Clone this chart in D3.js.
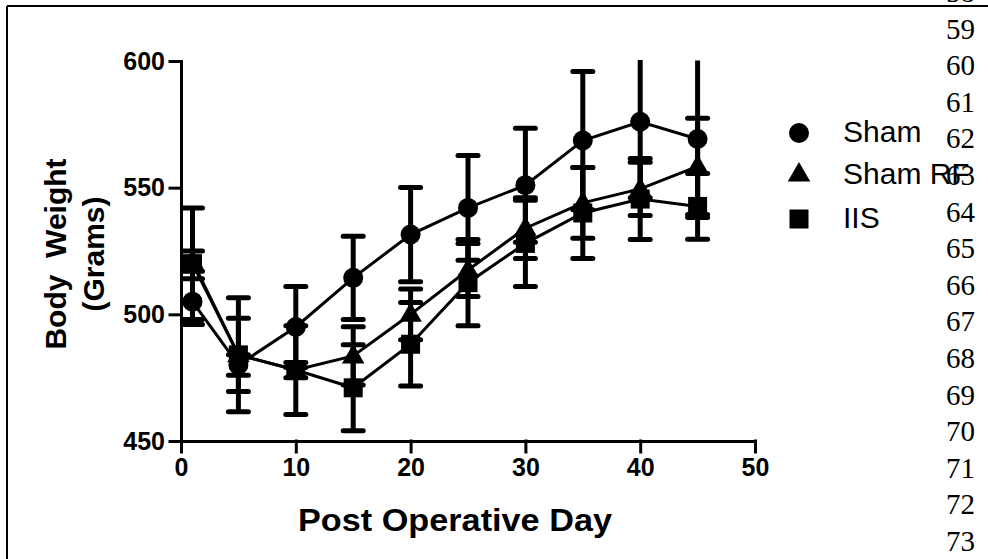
<!DOCTYPE html>
<html>
<head>
<meta charset="utf-8">
<script src="https://cdn.jsdelivr.net/npm/d3@7"></script>
<style>
  html, body { margin: 0; padding: 0; background: #fff; }
  svg { display: block; }
</style>
</head>
<body>
<svg id="chart" width="988" height="559"></svg>
<script>
// ---- data ----
const days = [1, 5, 10, 15, 20, 25, 30, 35, 40, 45];
const shamMean   = [505, 480, 495, 514.4, 531.5, 542, 551, 568.6, 576, 569.2];
const shamSem    = [9, 4, 16, 16.4, 18.6, 20.7, 22.5, 27.3, 30, 31];
const shamRFMean = [521, 484, 478, 483.6, 500, 517.5, 534, 544, 549.5, 558.4];
const shamRFSem  = [4, 22.5, 3, 11.5, 10, 10.5, 12, 14, 10.5, 19];
const iisMean    = [520, 484, 478, 471, 488.2, 512.5, 528, 540, 545.5, 542.6];
const iisSem     = [22, 14.5, 17.5, 17, 16.5, 17, 17, 18, 16, 13];
const seriesNames = ["Sham", "Sham RF", "IIS"];
const seriesShapes = ["circle", "triangle", "square"];
const xTicks = [0, 10, 20, 30, 40, 50];
const yTicks = [450, 500, 550, 600];
const lineNumbers = [58, 59, 60, 61, 62, 63, 64, 65, 66, 67, 68, 69, 70, 71, 72, 73];

const series = [
  { name: seriesNames[0], shape: seriesShapes[0], mean: shamMean, sem: shamSem },
  { name: seriesNames[1], shape: seriesShapes[1], mean: shamRFMean, sem: shamRFSem },
  { name: seriesNames[2], shape: seriesShapes[2], mean: iisMean, sem: iisSem }
];

const svg = d3.select("#chart");
const FONT = "'Liberation Sans', Arial, Helvetica, sans-serif";

// page frame (document border)
svg.append("line").attr("x1", 7).attr("y1", 6).attr("x2", 988).attr("y2", 6)
  .attr("stroke", "#000").attr("stroke-width", 2);
svg.append("line").attr("x1", 7).attr("y1", 6).attr("x2", 7).attr("y2", 559)
  .attr("stroke", "#000").attr("stroke-width", 2);

// line numbers on the right margin
svg.append("g").selectAll("text").data(lineNumbers).join("text")
  .attr("x", 975).attr("y", d => 38.5 + (d - 59) * 36.6)
  .attr("text-anchor", "end")
  .attr("font-family", "'Liberation Serif', 'Times New Roman', serif")
  .attr("font-size", 29)
  .attr("fill", "#000")
  .text(d => d);

// ---- scales ----
const x = d3.scaleLinear().domain([0, 50]).range([181, 755]);
const y = d3.scaleLinear().domain([450, 600]).range([441, 61]);

// ---- axes ----
const yAxis = d3.axisLeft(y).tickValues(yTicks).tickSize(11).tickSizeOuter(0).tickPadding(5);
const xAxis = d3.axisBottom(x).tickValues(xTicks).tickSize(11).tickSizeOuter(0).tickPadding(6);

const gy = svg.append("g").attr("transform", "translate(181,0)").call(yAxis);
const gx = svg.append("g").attr("transform", "translate(0,441)").call(xAxis);
[gx, gy].forEach(g => {
  g.select(".domain").attr("stroke", "#000").attr("stroke-width", 3).attr("stroke-linecap", "square");
  g.selectAll(".tick line").attr("stroke", "#000").attr("stroke-width", 3).attr("stroke-linecap", "square");
  g.selectAll(".tick text").attr("fill", "#000")
    .attr("font-family", FONT).attr("font-weight", "bold").attr("font-size", 25);
});

// axis titles
svg.append("text")
  .attr("x", 455).attr("y", 531)
  .attr("text-anchor", "middle")
  .attr("font-family", FONT).attr("font-weight", "bold").attr("font-size", 31)
  .attr("textLength", 314).attr("lengthAdjust", "spacingAndGlyphs")
  .text("Post Operative Day");

const yt = svg.append("text")
  .attr("transform", "translate(66,254) rotate(-90)")
  .attr("text-anchor", "middle")
  .attr("font-family", FONT).attr("font-weight", "bold").attr("font-size", 30)
  .attr("xml:space", "preserve");
yt.append("tspan").attr("x", 0).attr("y", 0).text("Body  Weight");
yt.append("tspan").attr("x", 0).attr("y", 38).text("(Grams)");

// ---- marks ----
const clipTop = y(600);
const shapeSym = {
  circle: d3.symbol().type(d3.symbolCircle).size(Math.PI * 10 * 10),
  triangle: d3.symbol().type(d3.symbolTriangle).size(220),
  square: d3.symbol().type(d3.symbolSquare).size(19 * 19)
};

const line = d3.line().x(d => x(d.day)).y(d => y(d.v));

series.forEach(s => {
  const pts = days.map((d, i) => ({ day: d, v: s.mean[i], e: s.sem[i] }));
  const g = svg.append("g");
  // error bars
  pts.forEach(p => {
    const hi = p.v + p.e, lo = p.v - p.e;
    const yHi = Math.max(y(hi), clipTop - 1);
    g.append("line").attr("x1", x(p.day)).attr("x2", x(p.day))
      .attr("y1", yHi).attr("y2", y(lo))
      .attr("stroke", "#000").attr("stroke-width", 5);
    [hi, lo].forEach(v => {
      if (v > 600) return;
      g.append("line").attr("x1", x(p.day) - 10).attr("x2", x(p.day) + 10)
        .attr("y1", y(v)).attr("y2", y(v))
        .attr("stroke", "#000").attr("stroke-width", 5).attr("stroke-linecap", "round");
    });
  });
  // connecting line
  g.append("path").datum(pts).attr("d", line)
    .attr("fill", "none").attr("stroke", "#000").attr("stroke-width", 3);
  // markers
  g.selectAll("path.m").data(pts).join("path").attr("class", "m")
    .attr("transform", p => `translate(${x(p.day)},${y(p.v) + (s.shape === "triangle" ? 1 : 0)})`)
    .attr("d", shapeSym[s.shape]())
    .attr("fill", "#000");
});

// ---- legend ----
const legendY = [133, 175, 219];
const lg = svg.append("g");
series.forEach((s, i) => {
  lg.append("path")
    .attr("transform", `translate(799,${legendY[i]})`)
    .attr("d", shapeSym[s.shape]())
    .attr("fill", "#000");
  lg.append("text")
    .attr("x", 843).attr("y", legendY[i] + 9)
    .attr("font-family", FONT).attr("font-size", 30)
    .attr("fill", "#000")
    .text(s.name);
});
</script>
</body>
</html>
